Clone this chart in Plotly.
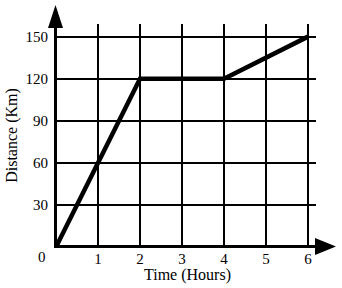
import plotly.graph_objects as go

time_hours = [0, 2, 4, 6]
distance_km = [0, 120, 120, 150]
x_ticks = [1, 2, 3, 4, 5, 6]
y_ticks = [30, 60, 90, 120, 150]

W, H = 342, 288
L, R, T, B = 56, 26, 24, 41
pw, ph = W - L - R, H - T - B

def px(X):
    return (X - L) / pw

def py(Y):
    return (H - B - Y) / ph

fam = "Liberation Serif, Times New Roman, serif"
tick_font = dict(family=fam, size=15, color="black")
title_font = dict(family=fam, size=16, color="black")

fig = go.Figure()
fig.add_trace(go.Scatter(x=time_hours, y=distance_km, mode="lines",
                         line=dict(color="black", width=4.5), showlegend=False,
                         hoverinfo="skip"))

fig.update_layout(
    width=W, height=H,
    margin=dict(l=L, r=R, t=T, b=B, autoexpand=False),
    paper_bgcolor="white", plot_bgcolor="white",
    font=tick_font,
    xaxis=dict(range=[0, 6.19], tickvals=x_ticks, ticktext=[str(v) for v in x_ticks],
               showgrid=True, gridcolor="black", gridwidth=1.5, zeroline=False,
               showline=False, ticks="", ticklabelstandoff=1, tickfont=tick_font,
               automargin=False),
    yaxis=dict(range=[0, 159], tickvals=y_ticks, ticktext=[str(v) for v in y_ticks],
               showgrid=True, gridcolor="black", gridwidth=1.5, zeroline=False,
               showline=False, ticks="", ticklabelstandoff=7, tickfont=tick_font,
               automargin=False,
               title=dict(text="Distance (Km)", font=title_font, standoff=3)),
)

shapes = [
    dict(type="line", xref="paper", yref="paper", x0=px(55.5), x1=px(55.5),
         y0=py(248), y1=py(20), line=dict(color="black", width=3)),
    dict(type="line", xref="paper", yref="paper", x0=px(54), x1=px(320),
         y0=py(246.5), y1=py(246.5), line=dict(color="black", width=3)),
    dict(type="path", xref="paper", yref="paper",
         path=f"M {px(55.5)},{py(5)} L {px(48)},{py(28)} L {px(63)},{py(28)} Z",
         fillcolor="black", line=dict(color="black", width=0)),
    dict(type="path", xref="paper", yref="paper",
         path=f"M {px(336)},{py(246.5)} L {px(315)},{py(238)} L {px(315)},{py(255)} Z",
         fillcolor="black", line=dict(color="black", width=0)),
]
fig.update_layout(shapes=shapes)

fig.add_annotation(text="0", xref="paper", yref="paper", x=px(42), y=py(257),
                   showarrow=False, font=tick_font, xanchor="center", yanchor="middle")
fig.add_annotation(text="Time (Hours)", xref="paper", yref="paper", x=px(187), y=py(275),
                   showarrow=False, font=title_font, xanchor="center", yanchor="middle")

fig.write_html("out.html")
